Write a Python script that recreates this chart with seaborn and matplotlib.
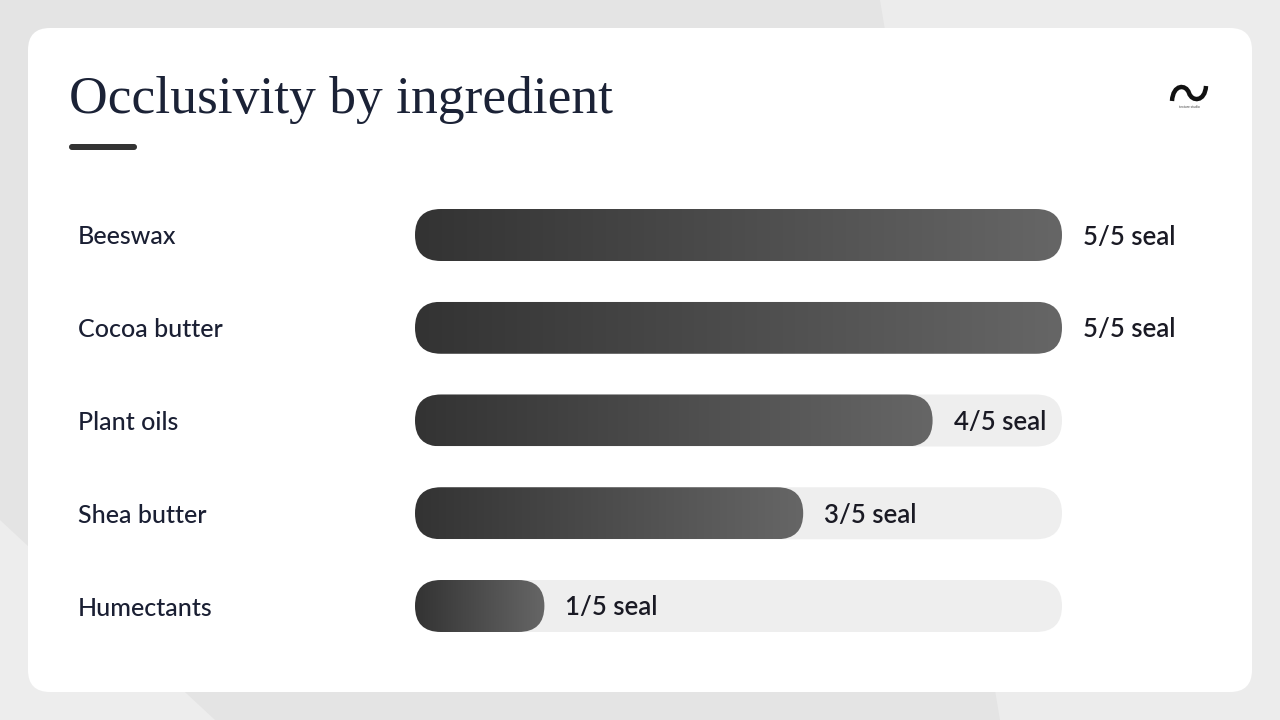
import numpy as np
import pandas as pd
import matplotlib
matplotlib.use("Agg")
import matplotlib.pyplot as plt
import seaborn as sns
from matplotlib.patches import FancyBboxPatch, Polygon, PathPatch
from matplotlib.path import Path
from matplotlib.colors import LinearSegmentedColormap

# data
ingredients = ["Beeswax", "Cocoa butter", "Plant oils", "Shea butter", "Humectants"]
seal_scores = [5, 5, 4, 3, 1]
max_score = 5
value_labels = [f"{s}/5 seal" for s in seal_scores]

df = pd.DataFrame({"ingredient": ingredients, "score": seal_scores,
                   "track": [max_score] * len(ingredients)})

W, H = 1280, 720
sns.set_theme(style="white")
plt.rcParams["font.family"] = ["Lato", "DejaVu Sans"]

fig = plt.figure(figsize=(W / 100, H / 100), dpi=100)
fig.patch.set_facecolor("#e4e4e4")

# background layer in pixel coords
bg = fig.add_axes([0, 0, 1, 1])
bg.set_xlim(0, W)
bg.set_ylim(H, 0)
bg.axis("off")
bg.add_patch(Polygon([[880, 0], [1280, 0], [1280, 720], [1000, 720]],
                     closed=True, facecolor="#ececec", edgecolor="none"))
bg.add_patch(Polygon([[0, 520], [215, 720], [0, 720]],
                     closed=True, facecolor="#ededed", edgecolor="none"))
bg.add_patch(FancyBboxPatch((28, 28), 1224, 664,
                            boxstyle="round,pad=0,rounding_size=22",
                            facecolor="white", edgecolor="none"))
bg.text(69, 100, "Occlusivity by ingredient", fontsize=38.5, color="#1b2236",
        va="center", ha="left", family=["Liberation Serif", "DejaVu Serif"])
bg.add_patch(FancyBboxPatch((69, 144), 68, 6,
                            boxstyle="round,pad=0,rounding_size=3",
                            facecolor="#333333", edgecolor="none"))

# logo mark: wave
wave = Path([(1172, 101), (1173, 84), (1186, 84), (1189, 93),
             (1192, 102), (1205, 102), (1206, 86)],
            [Path.MOVETO, Path.CURVE4, Path.CURVE4, Path.CURVE4,
             Path.CURVE4, Path.CURVE4, Path.CURVE4])
bg.add_patch(PathPatch(wave, facecolor="none", edgecolor="#111111",
                       lw=3.2, capstyle="butt"))
bg.text(1189, 107, "texture studio", fontsize=2.4, color="#444444",
        ha="center", va="center")

# bar chart axes: track x 415..1062, rows centred at 235..606
row_gap = (606 - 235) / 4
top = 235 - row_gap / 2
bottom = 606 + row_gap / 2
ax = fig.add_axes([415 / W, 1 - bottom / H, (1062 - 415) / W, (bottom - top) / H])
bar_h = 52 / row_gap

sns.barplot(data=df, x="track", y="ingredient", orient="h", color="#eeeeee",
            width=bar_h, ax=ax)
n_track = len(ax.patches)
sns.barplot(data=df, x="score", y="ingredient", orient="h", color="#444444",
            width=bar_h, ax=ax)
ax.set_xlim(0, max_score)
ax.set_ylim(len(ingredients) - 0.5, -0.5)
ax.axis("off")
ax.patch.set_alpha(0)

px_x = (1062 - 415) / max_score
px_y = row_gap
aspect = px_x / px_y
rad = 26 / px_x

cmap = LinearSegmentedColormap.from_list("fill", ["#333333", "#666666"])
grad = np.linspace(0, 1, 256).reshape(1, -1)

for i, p in enumerate(list(ax.patches)):
    x0, y0, w, h = p.get_x(), p.get_y(), p.get_width(), p.get_height()
    p.set_visible(False)
    rr = FancyBboxPatch((x0, y0), w, h,
                        boxstyle=f"round,pad=0,rounding_size={rad}",
                        mutation_aspect=aspect, edgecolor="none",
                        facecolor="#eeeeee" if i < n_track else "none")
    ax.add_patch(rr)
    if i >= n_track:
        im = ax.imshow(grad, cmap=cmap, aspect="auto",
                       extent=(x0, x0 + w, y0 + h, y0), zorder=3)
        im.set_clip_path(rr)

ax.set_xlim(0, max_score)
ax.set_ylim(len(ingredients) - 0.5, -0.5)

for i, (name, s, lab) in enumerate(zip(ingredients, seal_scores, value_labels)):
    ax.text(s + 21 / px_x, i + 2 / px_y, lab, fontsize=18.5, fontweight="semibold",
            color="#1a1a24", va="center", ha="left", zorder=5, clip_on=False)
    bg.text(78, 237 + i * row_gap, name, fontsize=18, fontweight="medium",
            color="#1a1f33", va="center", ha="left")

fig.savefig("out.png", dpi=100, facecolor=fig.get_facecolor())
